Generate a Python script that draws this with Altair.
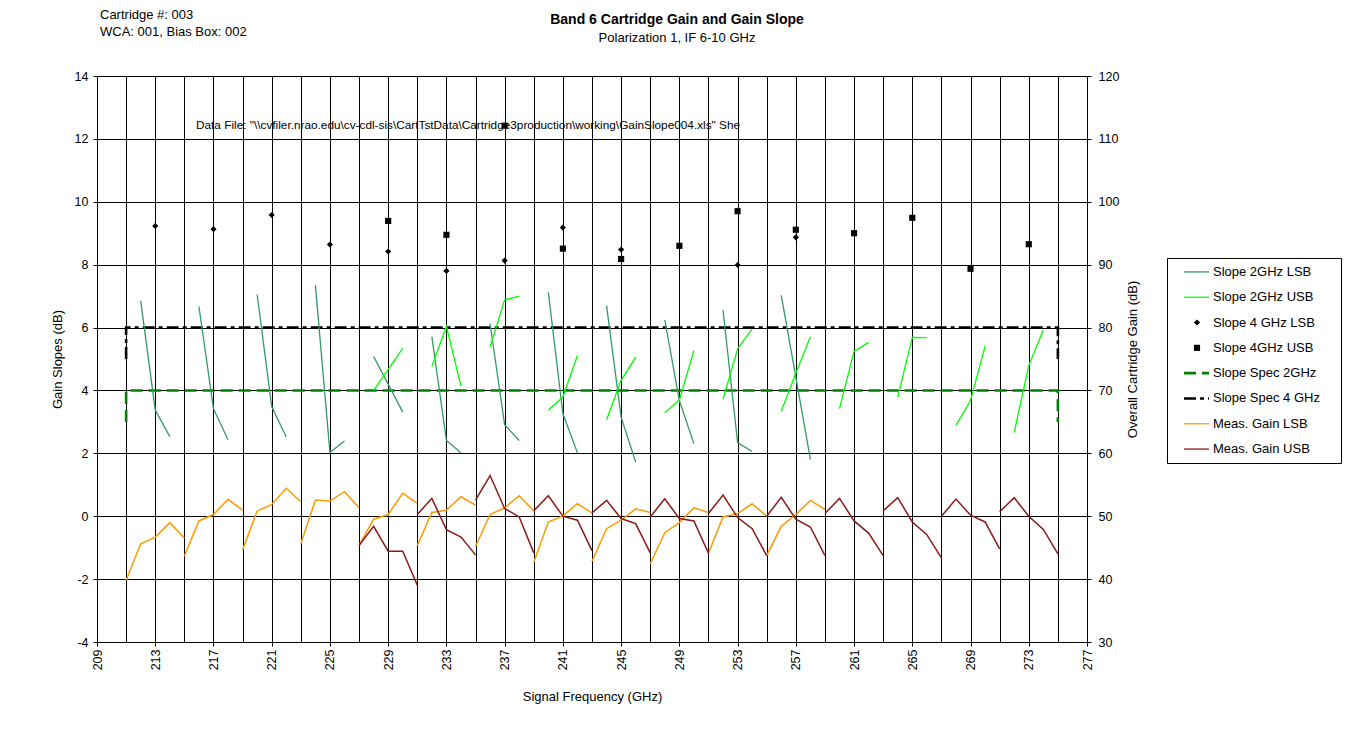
import altair as alt
import pandas as pd

FONT = "Liberation Sans, Arial, sans-serif"

# ---------------- data ----------------
series_names = ["Slope 2GHz LSB", "Slope 2GHz USB", "Slope 4 GHz LSB", "Slope 4GHz USB",
                "Slope Spec 2GHz", "Slope Spec 4 GHz", "Meas. Gain LSB", "Meas. Gain USB"]
series_colors = ["#339966", "#00ff00", "#000000", "#000000",
                 "#008000", "#000000", "#ff9900", "#8b1a1a"]
series_dash = [[1, 0], [1, 0], [1, 0], [1, 0], [12, 6], [12, 4, 4, 4], [1, 0], [1, 0]]
series_shape = ["stroke", "stroke", "diamond", "square", "stroke", "stroke", "stroke", "stroke"]

# 2 GHz slope segments: points at centre-1, centre, centre+1 (GHz)
lsb_centers = [213, 217, 221, 225, 229, 233, 237, 241, 245, 249, 253, 257]
lsb_slope2 = [[6.85, 3.38, 2.53], [6.67, 3.42, 2.43], [7.05, 3.49, 2.52], [7.35, 2.03, 2.39],
              [5.08, 4.20, 3.31], [5.71, 2.41, 2.02], [6.12, 2.91, 2.41], [7.12, 3.26, 2.02],
              [6.70, 3.15, 1.72], [6.24, 3.68, 2.31], [6.56, 2.34, 2.06], [7.02, 4.42, 1.81]]
usb_centers = [229, 233, 237, 241, 245, 249, 253, 257, 261, 265, 269, 273]
usb_slope2 = [[4.00, 4.67, 5.34], [4.76, 6.04, 4.14], [5.38, 6.88, 7.00], [3.37, 3.79, 5.11],
              [3.07, 4.32, 5.06], [3.29, 3.70, 5.27], [3.72, 5.32, 5.96], [3.34, 4.55, 5.71],
              [3.42, 5.24, 5.53], [3.79, 5.69, 5.68], [2.89, 3.68, 5.41], [2.66, 4.79, 5.93]]
segment_offsets = [-1, 0, 1]

# 4 GHz slope markers
lsb4_freq = [213, 217, 221, 225, 229, 233, 237, 241, 245, 253, 257]
lsb4_vals = [9.23, 9.13, 9.58, 8.64, 8.42, 7.80, 8.13, 9.18, 8.48, 7.99, 8.87]
usb4_freq = [229, 233, 237, 241, 245, 249, 253, 257, 261, 265, 269, 273]
usb4_vals = [9.39, 8.95, 12.42, 8.51, 8.18, 8.60, 9.70, 9.11, 9.00, 9.49, 7.87, 8.65]

# slope specifications
spec_freq = [211, 211, 275, 275]
spec2_vals = [3, 4, 4, 3]
spec4_vals = [5, 6, 6, 5]

# measured gain (right axis), five points per 4 GHz block
gain_lsb_start = [211, 215, 219, 223, 227, 231, 235, 239, 243, 247, 251, 255]
gain_lsb = [[39.83, 45.61, 46.68, 48.98, 46.52], [43.63, 49.25, 50.27, 52.68, 50.96],
            [44.65, 50.80, 51.87, 54.44, 52.30], [45.61, 52.57, 52.41, 53.91, 51.34],
            [45.35, 49.52, 50.27, 53.64, 52.03], [45.35, 50.59, 50.96, 53.10, 51.77],
            [45.18, 50.27, 51.34, 53.26, 50.86], [42.67, 49.09, 50.05, 51.98, 50.54],
            [42.83, 48.02, 49.36, 51.18, 50.59], [42.40, 47.38, 48.98, 51.34, 50.59],
            [44.11, 49.89, 50.43, 51.98, 50.00], [43.74, 48.39, 50.27, 52.52, 51.07]]
gain_usb_start = [227, 231, 235, 239, 243, 247, 251, 255, 259, 263, 267, 271]
gain_usb = [[45.35, 48.39, 44.44, 44.44, 39.03], [50.27, 52.84, 47.86, 46.68, 43.85],
            [52.57, 56.47, 51.23, 49.89, 44.17], [50.86, 53.26, 50.00, 49.36, 44.54],
            [50.54, 52.52, 49.63, 48.82, 44.17], [49.89, 52.78, 49.63, 49.25, 44.11],
            [50.43, 53.37, 49.79, 48.02, 43.74], [50.00, 53.00, 49.52, 48.29, 43.74],
            [50.43, 52.84, 49.25, 47.32, 43.74], [50.86, 52.94, 49.09, 47.06, 43.37],
            [50.00, 52.73, 50.16, 49.09, 44.81], [50.70, 52.94, 50.00, 47.91, 44.01]]

x_ticks = list(range(209, 278, 2))
y_left_ticks = list(range(-4, 15, 2))
y_right_ticks = list(range(30, 121, 10))

title_text = "Band 6 Cartridge Gain and Gain Slope"
subtitle_text = "Polarization 1,  IF 6-10 GHz"
header_text = "Cartridge #:  003\nWCA:  001, Bias Box:  002"
datafile_text = ('Data File:  "\\\\cvfiler.nrao.edu\\cv-cdl-sis\\CartTstData\\Cartridge3production'
                 '\\working\\GainSlope004.xls"  She')

# ---------------- tables ----------------
slope_rows = []
for gi, (c, vals) in enumerate(zip(lsb_centers, lsb_slope2)):
    for off, v in zip(segment_offsets, vals):
        slope_rows.append(dict(freq=c + off, value=v, series=series_names[0], grp=f"L{gi}"))
for gi, (c, vals) in enumerate(zip(usb_centers, usb_slope2)):
    for off, v in zip(segment_offsets, vals):
        slope_rows.append(dict(freq=c + off, value=v, series=series_names[1], grp=f"U{gi}"))
slope_df = pd.DataFrame(slope_rows)

pts_df = pd.concat([
    pd.DataFrame(dict(freq=lsb4_freq, value=lsb4_vals, series=series_names[2])),
    pd.DataFrame(dict(freq=usb4_freq, value=usb4_vals, series=series_names[3])),
])

spec_df = pd.concat([
    pd.DataFrame(dict(freq=spec_freq, value=spec2_vals, series=series_names[4], ord=range(4))),
    pd.DataFrame(dict(freq=spec_freq, value=spec4_vals, series=series_names[5], ord=range(4))),
])

gain_rows = []
for gi, (s, vals) in enumerate(zip(gain_lsb_start, gain_lsb)):
    for k, v in enumerate(vals):
        gain_rows.append(dict(freq=s + k, value=v, series=series_names[6], grp=f"GL{gi}"))
for gi, (s, vals) in enumerate(zip(gain_usb_start, gain_usb)):
    for k, v in enumerate(vals):
        gain_rows.append(dict(freq=s + k, value=v, series=series_names[7], grp=f"GU{gi}"))
gain_df = pd.DataFrame(gain_rows)

# ---------------- encodings ----------------
color_scale = alt.Scale(domain=series_names, range=series_colors)
dash_scale = alt.Scale(domain=series_names, range=series_dash)
shape_scale = alt.Scale(domain=series_names, range=series_shape)


def x_enc():
    return alt.X("freq:Q",
                 scale=alt.Scale(domain=[209, 277], nice=False, zero=False),
                 axis=alt.Axis(values=x_ticks,
                               labelExpr="(datum.value - 209) % 4 == 0 ? datum.label : ''",
                               tickOpacity={"condition": {"test": "(datum.value - 209) % 4 != 0", "value": 0},
                                            "value": 1},
                               labelAngle=270, grid=True, gridColor="#000000", gridWidth=1,
                               tickSize=4, labelPadding=3, labelFontSize=12.5,
                               title="Signal Frequency (GHz)", titleFontSize=13, titlePadding=21))


def y_left():
    return alt.Y("value:Q",
                 scale=alt.Scale(domain=[-4, 14], nice=False, zero=False),
                 axis=alt.Axis(values=y_left_ticks, grid=True, gridColor="#000000", gridWidth=1,
                               labelExpr="datum.value + ''",
                               tickSize=4, labelPadding=5, labelFontSize=12.5,
                               title="Gain Slopes (dB)", titleFontSize=13, titlePadding=10))


color_enc = alt.Color("series:N", scale=color_scale, legend=None)

slopes = alt.Chart(slope_df).mark_line(strokeWidth=1.3).encode(
    x=x_enc(), y=y_left(), color=color_enc, detail="grp:N")

specs = alt.Chart(spec_df).mark_line(strokeWidth=2.6).encode(
    x=x_enc(), y=y_left(), color=color_enc,
    strokeDash=alt.StrokeDash("series:N", scale=dash_scale, legend=None),
    order="ord:Q")

markers = alt.Chart(pts_df).mark_point(filled=True, size=38, opacity=1).encode(
    x=x_enc(), y=y_left(), color=color_enc,
    shape=alt.Shape("series:N", scale=shape_scale, legend=None))

datafile = alt.Chart(pd.DataFrame({"t": [datafile_text]})).mark_text(
    align="left", baseline="middle", fontSize=11.8, font=FONT, color="black").encode(
    x=alt.value(99), y=alt.value(49), text="t:N")

header = alt.Chart(pd.DataFrame({"t": [header_text]})).mark_text(
    align="left", baseline="top", fontSize=13, font=FONT, color="black",
    lineBreak="\n", lineHeight=17).encode(
    x=alt.value(3), y=alt.value(-67), text="t:N")

left = alt.layer(specs, slopes, markers, datafile, header)

gains = alt.Chart(gain_df).mark_line(strokeWidth=1.5).encode(
    x=x_enc(),
    y=alt.Y("value:Q",
            scale=alt.Scale(domain=[30, 120], nice=False, zero=False),
            axis=alt.Axis(orient="right", values=y_right_ticks, grid=False,
                          tickSize=4, labelPadding=7, labelFontSize=12.5,
                          title="Overall Cartridge Gain (dB)", titleFontSize=13,
                          titleAngle=270, titlePadding=21)),
    color=color_enc, detail="grp:N")

main = alt.layer(left, gains).resolve_scale(y="independent").properties(
    width=990, height=566,
    title=alt.TitleParams(text=title_text, subtitle=subtitle_text,
                          anchor="middle", frame="group", font=FONT, subtitleFont=FONT,
                          fontSize=14, fontWeight="bold", subtitleFontSize=13,
                          color="black", subtitleColor="black", subtitlePadding=5,
                          offset=0, dx=85, dy=36))

# ---------------- legend drawn from the series list ----------------
leg_df = pd.DataFrame({"name": series_names})
leg_y = alt.Y("name:N", sort=series_names,
              scale=alt.Scale(domain=series_names, type="point", padding=0.55), axis=None)
leg_color = alt.Color("name:N", scale=color_scale, legend=None)
leg_base = alt.Chart(leg_df)

thin = leg_base.mark_rule(strokeWidth=1.3).encode(
    x=alt.value(17), x2=alt.value(42), y=leg_y, color=leg_color
).transform_filter(alt.FieldOneOfPredicate(field="name", oneOf=[series_names[i] for i in (0, 1, 6, 7)]))

thick = leg_base.mark_rule(strokeWidth=2.6).encode(
    x=alt.value(17), x2=alt.value(42), y=leg_y, color=leg_color,
    strokeDash=alt.StrokeDash("name:N", scale=dash_scale, legend=None)
).transform_filter(alt.FieldOneOfPredicate(field="name", oneOf=[series_names[4], series_names[5]]))

sym = leg_base.mark_point(filled=True, size=38, opacity=1).encode(
    x=alt.value(30), y=leg_y, color=leg_color,
    shape=alt.Shape("name:N", scale=shape_scale, legend=None)
).transform_filter(alt.FieldOneOfPredicate(field="name", oneOf=[series_names[2], series_names[3]]))

labels = leg_base.mark_text(align="left", baseline="middle", fontSize=13, font=FONT, color="black").encode(
    x=alt.value(46), y=leg_y, text="name:N")

legend = alt.layer(thin, thick, sym, labels).properties(width=174, height=205)

spacer = alt.Chart(pd.DataFrame({"t": [""]})).mark_text().encode(text="t:N").properties(
    width=174, height=180, view=alt.ViewBackground(stroke="transparent"))

right_col = alt.vconcat(spacer, legend, spacing=0)

chart = alt.hconcat(main, right_col, spacing=80, bounds="flush").properties(
    padding={"left": 50, "top": 8, "right": 5, "bottom": 5},
    background="white",
).configure_view(stroke="#000000", strokeWidth=1).configure_axis(
    domainColor="#000000", tickColor="#000000", labelColor="#000000", titleColor="#000000",
    labelFont=FONT, titleFont=FONT, titleFontWeight="normal")

chart.save("out.html", embed_options={"renderer": "svg", "actions": False})
